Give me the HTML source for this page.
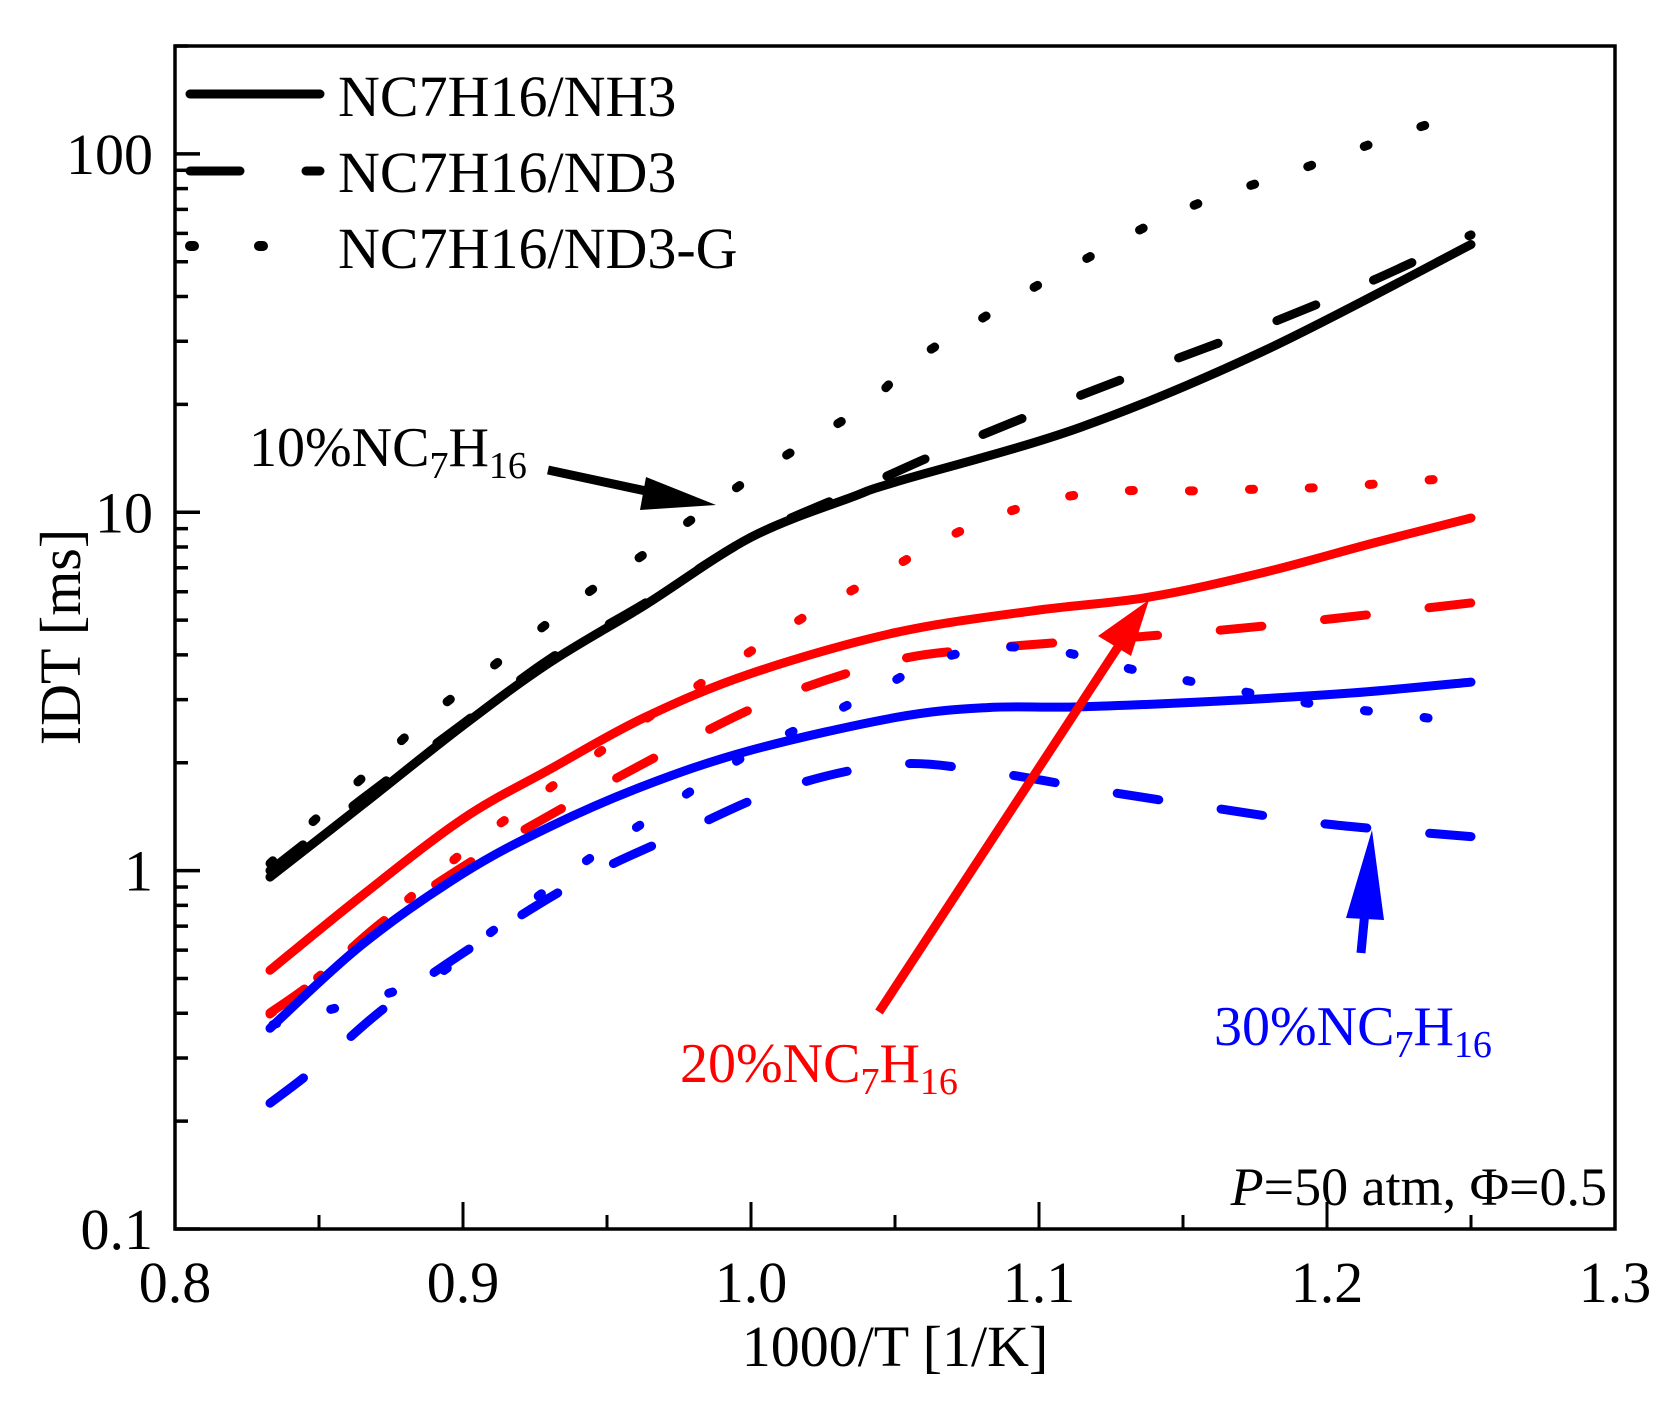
<!DOCTYPE html>
<html><head><meta charset="utf-8"><style>
html,body{margin:0;padding:0;background:#fff;}
svg{display:block;font-family:"Liberation Serif","DejaVu Serif",serif;}
</style></head><body>
<svg id="chart" width="1680" height="1404" viewBox="0 0 1680 1404" xmlns="http://www.w3.org/2000/svg">
<g id="plot"></g>
</svg>
<script>
// ---- data (x = 1000/T, y = log10(IDT ms)) ----
const xTicks = [0.8, 0.9, 1.0, 1.1, 1.2, 1.3];
const xTickLabels = ["0.8", "0.9", "1.0", "1.1", "1.2", "1.3"];
const yTicks = [0.1, 1, 10, 100];
const yTickLabels = ["0.1", "1", "10", "100"];

const nh3_10x = [0.833, 0.865, 0.9, 0.93, 0.963, 1.0, 1.036, 1.05, 1.114, 1.178, 1.25];
const nh3_10y = [-0.018, 0.183, 0.405, 0.58, 0.74, 0.93, 1.045, 1.084, 1.236, 1.45, 1.747];
const nd3_10x = [0.833, 0.865, 0.9, 0.93, 0.963, 1.0, 1.036, 1.066, 1.103, 1.14, 1.178, 1.214, 1.25];
const nd3_10y = [0.0, 0.2, 0.41, 0.59, 0.745, 0.93, 1.06, 1.168, 1.29, 1.405, 1.52, 1.64, 1.774];
const ndg_10x = [0.833, 0.849, 0.868, 0.885, 0.904, 0.923, 0.942, 0.962, 0.981, 1.0, 1.02, 1.041, 1.056, 1.076, 1.096, 1.117, 1.138, 1.159, 1.182, 1.204, 1.225, 1.25];
const ndg_10y = [0.02, 0.145, 0.28, 0.41, 0.53, 0.65, 0.768, 0.878, 0.989, 1.096, 1.198, 1.305, 1.419, 1.52, 1.617, 1.71, 1.8, 1.873, 1.934, 1.994, 2.056, 2.12];

const nh3_20x = [0.833, 0.865, 0.9, 0.93, 0.963, 1.0, 1.05, 1.098, 1.138, 1.178, 1.217, 1.25];
const nh3_20y = [-0.278, -0.069, 0.145, 0.282, 0.427, 0.55, 0.664, 0.725, 0.763, 0.832, 0.916, 0.984];
const nd3_20x = [0.833, 0.849, 0.873, 0.904, 0.938, 0.977, 1.011, 1.05, 1.083, 1.127, 1.163, 1.201, 1.25];
const nd3_20y = [-0.397, -0.305, -0.137, 0.031, 0.19, 0.359, 0.488, 0.587, 0.621, 0.648, 0.671, 0.702, 0.747];
const ndg_20x = [0.833, 0.852, 0.887, 0.905, 0.924, 0.943, 0.962, 0.982, 1.002, 1.022, 1.042, 1.064, 1.085, 1.107, 1.13, 1.154, 1.178, 1.201, 1.225, 1.25];
const ndg_20y = [-0.4, -0.282, -0.038, 0.084, 0.195, 0.305, 0.415, 0.519, 0.623, 0.725, 0.812, 0.913, 0.989, 1.04, 1.06, 1.06, 1.065, 1.07, 1.084, 1.099];

const nh3_30x = [0.833, 0.865, 0.9, 0.93, 0.963, 1.0, 1.05, 1.082, 1.114, 1.162, 1.209, 1.25];
const nh3_30y = [-0.44, -0.206, -0.008, 0.122, 0.237, 0.336, 0.427, 0.455, 0.457, 0.473, 0.496, 0.526];
const nd3_30x = [0.833, 0.849, 0.873, 0.906, 0.94, 0.974, 1.011, 1.05, 1.084, 1.123, 1.163, 1.201, 1.25];
const nd3_30y = [-0.649, -0.55, -0.382, -0.198, -0.03, 0.099, 0.229, 0.297, 0.274, 0.221, 0.172, 0.129, 0.095];
const ndg_30x = [0.834, 0.885, 0.904, 0.924, 0.942, 0.962, 0.982, 1.002, 1.023, 1.044, 1.063, 1.085, 1.108, 1.131, 1.154, 1.178, 1.201, 1.225, 1.25];
const ndg_30y = [-0.43, -0.313, -0.206, -0.084, 0.023, 0.13, 0.237, 0.339, 0.42, 0.504, 0.584, 0.623, 0.61, 0.564, 0.526, 0.489, 0.458, 0.436, 0.41];

// ---- axes ----
const L = 175, R = 1615, T = 46, B = 1229;
const xMin = 0.8, xMax = 1.3, yLogMin = -1, yLogMax = Math.log10(200);
function sx(v){ return L + (v - xMin) / (xMax - xMin) * (R - L); }
function syLog(lv){ return B - (lv - yLogMin) / (yLogMax - yLogMin) * (B - T); }
function sy(v){ return syLog(Math.log10(v)); }

const NS = "http://www.w3.org/2000/svg";
const g = document.getElementById('plot');
function mk(tag, attrs, parent){
  const e = document.createElementNS(NS, tag);
  for (const k in attrs) e.setAttribute(k, attrs[k]);
  (parent || g).appendChild(e);
  return e;
}
function smoothPath(xs, ys){
  const p = xs.map((x,i)=>[sx(x), syLog(ys[i])]);
  let d = `M${p[0][0].toFixed(1)},${p[0][1].toFixed(1)}`;
  for (let i=0;i<p.length-1;i++){
    const p0 = p[Math.max(0,i-1)], p1 = p[i], p2 = p[i+1], p3 = p[Math.min(p.length-1,i+2)];
    const c1x = p1[0] + (p2[0]-p0[0])/6, c1y = p1[1] + (p2[1]-p0[1])/6;
    const c2x = p2[0] - (p3[0]-p1[0])/6, c2y = p2[1] - (p3[1]-p1[1])/6;
    d += ` C${c1x.toFixed(1)},${c1y.toFixed(1)} ${c2x.toFixed(1)},${c2y.toFixed(1)} ${p2[0].toFixed(1)},${p2[1].toFixed(1)}`;
  }
  return d;
}
const styles = { solid: null, dash: "42 63", dot: "4 56" };
function series(name, xs, ys, color, style){
  const el = mk('path', {d: smoothPath(xs, ys), fill:'none', stroke: color, 'stroke-width': 9, 'stroke-linecap':'round', 'stroke-linejoin':'round'});
  if (styles[style]) el.setAttribute('stroke-dasharray', styles[style]);
  
  
}
series('nh3-10pct-line', nh3_10x, nh3_10y, '#000', 'solid');
series('nd3-10pct-line', nd3_10x, nd3_10y, '#000', 'dash');
series('nd3g-10pct-line', ndg_10x, ndg_10y, '#000', 'dot');
series('nh3-20pct-line', nh3_20x, nh3_20y, '#ff0000', 'solid');
series('nd3-20pct-line', nd3_20x, nd3_20y, '#ff0000', 'dash');
series('nd3g-20pct-line', ndg_20x, ndg_20y, '#ff0000', 'dot');
series('nh3-30pct-line', nh3_30x, nh3_30y, '#0000ff', 'solid');
series('nd3-30pct-line', nd3_30x, nd3_30y, '#0000ff', 'dash');
series('nd3g-30pct-line', ndg_30x, ndg_30y, '#0000ff', 'dot');

// frame
const fr = mk('rect', {x:L, y:T, width:R-L, height:B-T, fill:'none', stroke:'#000', 'stroke-width':3.5});



// x ticks
xTicks.forEach((v,i)=>{
  const t = mk('line', {x1:sx(v), x2:sx(v), y1:B, y2:B-27, stroke:'#000', 'stroke-width':3});
  
  
  const lab = mk('text', {x:sx(v), y:1302, 'font-size':58, 'text-anchor':'middle'});
  lab.textContent = xTickLabels[i];
  
  
  if (i < xTicks.length-1){
    const m = mk('line', {x1:sx(v+0.05), x2:sx(v+0.05), y1:B, y2:B-14, stroke:'#000', 'stroke-width':3});
    
    
  }
});
// y ticks
yTicks.forEach((v,i)=>{
  const t = mk('line', {x1:L, x2:L+25, y1:sy(v), y2:sy(v), stroke:'#000', 'stroke-width':3.5});
  
  
  const lab = mk('text', {x:153, y:sy(v)+20, 'font-size':58, 'text-anchor':'end'});
  lab.textContent = yTickLabels[i];
  
  
  for (let k=2;k<=9;k++){
    const mv = v*k;
    if (mv > 200) break;
    const m = mk('line', {x1:L, x2:L+13, y1:sy(mv), y2:sy(mv), stroke:'#000', 'stroke-width':3.5});
    
    
  }
});
</script>
<svg style="position:absolute;left:0;top:0" width="1680" height="1404" viewBox="0 0 1680 1404" xmlns="http://www.w3.org/2000/svg" font-family="Liberation Serif, DejaVu Serif, serif">
  <text x="895" y="1366" font-size="58" text-anchor="middle">1000/T [1/K]</text>
  <text x="0" y="0" font-size="58" text-anchor="middle" transform="translate(80,637) rotate(-90)">IDT [ms]</text>
  <g>
    <line x1="190" y1="94" x2="320" y2="94" stroke="#000" stroke-width="9" stroke-linecap="round"/>
    <text x="338" y="116" font-size="58">NC7H16/NH3</text>
    <line x1="190" y1="171" x2="240" y2="171" stroke="#000" stroke-width="9" stroke-linecap="round"/>
    <line x1="306" y1="171" x2="320" y2="171" stroke="#000" stroke-width="9" stroke-linecap="round"/>
    <text x="338" y="192" font-size="58">NC7H16/ND3</text>
    <line x1="190" y1="246" x2="194" y2="246" stroke="#000" stroke-width="10" stroke-linecap="round"/>
    <line x1="259" y1="246" x2="263" y2="246" stroke="#000" stroke-width="10" stroke-linecap="round"/>
    <text x="338" y="268" font-size="58">NC7H16/ND3-G</text>
  </g>
  <text x="1607" y="1205" font-size="54" text-anchor="end"><tspan font-style="italic">P</tspan>=50 atm, Φ=0.5</text>
  <text x="249" y="466" font-size="56">10%NC<tspan font-size="38" dy="12">7</tspan><tspan dy="-12">H</tspan><tspan font-size="38" dy="12">16</tspan></text>
  <g>
    <line x1="548" y1="470" x2="660" y2="494" stroke="#000" stroke-width="9"/>
    <polygon points="716,505 646,477 640,510" fill="#000"/>
  </g>
  <text x="680" y="1082" font-size="56" fill="#ff0000">20%NC<tspan font-size="38" dy="12">7</tspan><tspan dy="-12">H</tspan><tspan font-size="38" dy="12">16</tspan></text>
  <g>
    <line x1="879" y1="1012" x2="1120" y2="644" stroke="#ff0000" stroke-width="9"/>
    <polygon points="1149,600 1098,636 1131,656" fill="#ff0000"/>
  </g>
  <text x="1214" y="1045" font-size="56" fill="#0000ff">30%NC<tspan font-size="38" dy="12">7</tspan><tspan dy="-12">H</tspan><tspan font-size="38" dy="12">16</tspan></text>
  <g>
    <line x1="1361" y1="953" x2="1368" y2="880" stroke="#0000ff" stroke-width="9"/>
    <polygon points="1372,830 1346,918 1384,920" fill="#0000ff"/>
  </g>
</svg>
</body></html>
